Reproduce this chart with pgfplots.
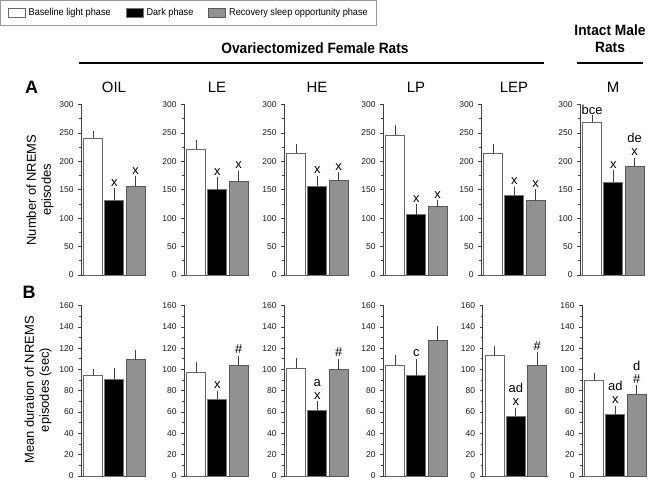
\documentclass[border=0pt]{standalone}
\usepackage{fontspec}
\setmainfont{Liberation Sans}
\newfontfamily\narrow[FakeStretch=0.92]{Liberation Sans}
\usepackage{pgfplots}
\pgfplotsset{compat=1.18}
\newcommand\annfont{\fontsize{13}{14}\selectfont}
\newcommand\ann[3]{\node[anchor=base,inner sep=0pt,yshift=5bp,font=\annfont] at (axis cs:#1,#2) {#3};}
\newcommand\annt[3]{\node[anchor=base,inner sep=0pt,yshift=18.5bp,font=\annfont] at (axis cs:#1,#2) {#3};}
\pgfplotsset{
  eb/.style={error bars/.cd, y dir=plus, y explicit,
    error bar style={black!75, line width=0.8bp},
    error mark options={black!75, line width=0.8bp, mark size=3.2bp}},
  panel/.style={
    scale only axis, width=65.3bp, height=170.5bp,
    xmin=0.435, xmax=3.5, ymin=0,
    axis lines*=left, xtick=\empty,
    tick align=outside, major tick length=3bp, minor tick length=2bp,
    minor y tick num=1,
    every tick/.style={black!75, line width=0.6bp},
    axis line style={black!75, line width=0.9bp},
    yticklabel style={font=\fontsize{8.5}{9}\selectfont, black!90, xshift=-1bp},
    /pgf/number format/assume math mode=true,
    ybar, bar width=19bp, bar shift=0pt,
    clip=false, anchor=south west,
    legend image code/.code={\draw[##1] (0bp,-4.5bp) rectangle (17bp,4.5bp);},
  },
  top/.style={panel, ymax=300, ytick={0,50,...,300}},
  bot/.style={panel, ymax=160, ytick={0,20,...,160}},
  wbar/.style={fill=white, draw=black!60, line width=0.8bp, eb},
  kbar/.style={fill=black, draw=black!55, line width=0.8bp, eb},
  gbar/.style={fill=black!43, draw=black!65, line width=0.8bp, eb},
}
\begin{document}
\begin{tikzpicture}[x=1bp,y=1bp]
\path[use as bounding box] (0,0) rectangle (648,480);
% ---------------- top row ----------------
\begin{axis}[top, at={(81bp,205bp)},
  legend style={at={(-1.233,1.613)}, anchor=north west, draw=black!40, line width=0.8bp,
    inner xsep=7bp, inner ysep=7bp, font=\narrow\fontsize{10}{12}\selectfont,
    nodes={inner xsep=2bp, inner ysep=1bp},
    /tikz/every odd column/.append style={column sep=1bp},
    /tikz/every even column/.append style={column sep=13bp}},
  legend columns=3]
\addplot[wbar] coordinates {(1,241) +- (0,7)};
\addplot[kbar] coordinates {(2,131) +- (0,16)};
\addplot[gbar] coordinates {(3,156) +- (0,12)};
\legend{Baseline light phase, Dark phase, Recovery sleep opportunity phase}
\ann{2}{147}{x}\ann{3}{168}{x}
\end{axis}
\begin{axis}[top, at={(184bp,205bp)}]
\addplot[wbar] coordinates {(1,221) +- (0,11)};
\addplot[kbar] coordinates {(2,150) +- (0,16)};
\addplot[gbar] coordinates {(3,164) +- (0,14)};
\ann{2}{166}{x}\ann{3}{178}{x}
\end{axis}
\begin{axis}[top, at={(284bp,205bp)}]
\addplot[wbar] coordinates {(1,214) +- (0,11)};
\addplot[kbar] coordinates {(2,156) +- (0,13)};
\addplot[gbar] coordinates {(3,166) +- (0,9)};
\ann{2}{169}{x}\ann{3}{175}{x}
\end{axis}
\begin{axis}[top, at={(383bp,205bp)}]
\addplot[wbar] coordinates {(1,246) +- (0,13)};
\addplot[kbar] coordinates {(2,106) +- (0,13)};
\addplot[gbar] coordinates {(3,120) +- (0,6)};
\ann{2}{119}{x}\ann{3}{126}{x}
\end{axis}
\begin{axis}[top, at={(481bp,205bp)}]
\addplot[wbar] coordinates {(1,214) +- (0,11)};
\addplot[kbar] coordinates {(2,140) +- (0,10)};
\addplot[gbar] coordinates {(3,131) +- (0,14)};
\ann{2}{150}{x}\ann{3}{145}{x}
\end{axis}
\begin{axis}[top, at={(580bp,205bp)}]
\addplot[wbar] coordinates {(1,269) +- (0,7)};
\addplot[kbar] coordinates {(2,163) +- (0,16)};
\addplot[gbar] coordinates {(3,191) +- (0,10)};
\node[anchor=base,inner sep=0pt,yshift=4bp,font=\annfont] at (axis cs:1,276) {bce};
\ann{2}{179}{x}\ann{3}{201}{x}\annt{3}{201}{de}
\end{axis}
% ---------------- bottom row ----------------
\begin{axis}[bot, at={(81bp,4bp)}]
\addplot[wbar] coordinates {(1,94) +- (0,3)};
\addplot[kbar] coordinates {(2,91) +- (0,7)};
\addplot[gbar] coordinates {(3,109) +- (0,6)};
\end{axis}
\begin{axis}[bot, at={(184bp,4bp)}]
\addplot[wbar] coordinates {(1,97) +- (0,7)};
\addplot[kbar] coordinates {(2,72) +- (0,5)};
\addplot[gbar] coordinates {(3,104) +- (0,6)};
\ann{2}{77}{x}\ann{3}{110}{\#}
\end{axis}
\begin{axis}[bot, at={(284bp,4bp)}]
\addplot[wbar] coordinates {(1,101) +- (0,7)};
\addplot[kbar] coordinates {(2,62) +- (0,5)};
\addplot[gbar] coordinates {(3,100) +- (0,7)};
\ann{2}{67}{x}\annt{2}{67}{a}\ann{3}{107}{\#}
\end{axis}
\begin{axis}[bot, at={(383bp,4bp)}]
\addplot[wbar] coordinates {(1,104) +- (0,7)};
\addplot[kbar] coordinates {(2,94) +- (0,13)};
\addplot[gbar] coordinates {(3,127) +- (0,11)};
\ann{2}{107}{c}
\end{axis}
\begin{axis}[bot, at={(482.5bp,4bp)}]
\addplot[wbar] coordinates {(1,113) +- (0,6)};
\addplot[kbar] coordinates {(2,56) +- (0,5)};
\addplot[gbar] coordinates {(3,104) +- (0,9)};
\ann{2}{61}{x}\annt{2}{61}{ad}\ann{3}{113}{\#}
\end{axis}
\begin{axis}[bot, at={(582bp,4bp)}]
\addplot[wbar] coordinates {(1,90) +- (0,4)};
\addplot[kbar] coordinates {(2,58) +- (0,5)};
\addplot[gbar] coordinates {(3,77) +- (0,5)};
\ann{2}{63}{x}\annt{2}{63}{ad}\ann{3}{82}{\#}\annt{3}{82}{d}
\end{axis}
% ---------------- labels ----------------
\node[rotate=90, align=center, font=\fontsize{13}{15}\selectfont] at (40,290) {Number of NREMS\\episodes};
\node[rotate=90, align=center, font=\fontsize{13}{15}\selectfont] at (38,90) {Mean duration of NREMS\\episodes (sec)};
\node[font=\bfseries\fontsize{18}{20}\selectfont] at (31.5,393) {A};
\node[font=\bfseries\fontsize{18}{20}\selectfont] at (29,188) {B};
\foreach \t/\xx in {OIL/114, LE/217, HE/317, LP/416, LEP/514, M/613}
  \node[font=\fontsize{15}{17}\selectfont] at (\xx,393) {\t};
\node[font=\narrow\bfseries\fontsize{15}{17}\selectfont] at (315,432) {Ovariectomized Female Rats};
\node[font=\narrow\bfseries\fontsize{15}{17}\selectfont, align=center] at (610,441) {Intact Male\\Rats};
\draw[line width=1.3bp] (79,417) -- (544,417);
\draw[line width=1.3bp] (577,417) -- (643,417);
\end{tikzpicture}
\end{document}
